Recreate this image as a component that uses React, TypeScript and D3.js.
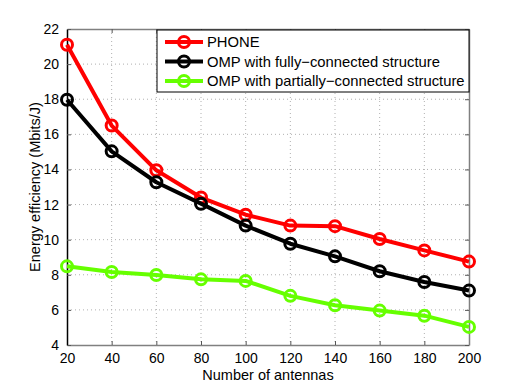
import React, { useRef, useEffect } from 'react';
import * as d3 from 'd3';

// Number of antennas
const antennas = [20, 40, 60, 80, 100, 120, 140, 160, 180, 200];

// Energy efficiency (Mbits/J)
const phone = [21.1, 16.5, 13.95, 12.4, 11.42, 10.8, 10.77, 10.04, 9.39, 8.75];
const ompFull = [17.97, 15.03, 13.27, 12.05, 10.8, 9.77, 9.05, 8.2, 7.59, 7.1];
const ompPartial = [8.48, 8.16, 7.99, 7.74, 7.65, 6.8, 6.26, 5.96, 5.67, 5.03];

const xTicks = [20, 40, 60, 80, 100, 120, 140, 160, 180, 200];
const yTicks = [4, 6, 8, 10, 12, 14, 16, 18, 20, 22];

const seriesNames = [
  'PHONE',
  'OMP with fully\u2212connected structure',
  'OMP with partially\u2212connected structure',
];
const seriesColors = ['#ff0000', '#000000', '#66ff00'];

const App = () => {
  const svgRef = useRef<SVGSVGElement | null>(null);

  useEffect(() => {
    if (!svgRef.current) return;
    const width = 518;
    const height = 389;
    const margin = { top: 29, right: 49, bottom: 44, left: 67 };
    const innerWidth = width - margin.left - margin.right;
    const innerHeight = height - margin.top - margin.bottom;
    const font = '"Liberation Sans", Arial, Helvetica, sans-serif';

    const root = d3.select(svgRef.current);
    root.selectAll('*').remove();
    root.attr('width', width).attr('height', height);

    const svg = root.append('g').attr('transform', `translate(${margin.left}, ${margin.top})`);

    const x = d3.scaleLinear().domain([20, 200]).range([0, innerWidth]);
    const y = d3.scaleLinear().domain([4, 22]).range([innerHeight, 0]);

    // grid
    svg.append('g')
      .selectAll('line')
      .data(xTicks.slice(1, -1))
      .join('line')
      .attr('x1', d => x(d)).attr('x2', d => x(d))
      .attr('y1', 0).attr('y2', innerHeight)
      .attr('stroke', '#b0b0b0').attr('stroke-width', 1)
      .attr('stroke-dasharray', '1,3');
    svg.append('g')
      .selectAll('line')
      .data(yTicks.slice(1, -1))
      .join('line')
      .attr('x1', 0).attr('x2', innerWidth)
      .attr('y1', d => y(d)).attr('y2', d => y(d))
      .attr('stroke', '#b0b0b0').attr('stroke-width', 1)
      .attr('stroke-dasharray', '1,3');

    // axes box
    const tickLen = 4;
    const bottom = svg.append('g').attr('transform', `translate(0, ${innerHeight})`)
      .call(d3.axisBottom(x).tickValues(xTicks).tickSizeInner(-tickLen).tickSizeOuter(0).tickPadding(8));
    const top = svg.append('g')
      .call(d3.axisTop(x).tickValues(xTicks).tickSizeInner(-tickLen).tickSizeOuter(0).tickFormat(() => ''));
    const left = svg.append('g')
      .call(d3.axisLeft(y).tickValues(yTicks).tickSizeInner(-tickLen).tickSizeOuter(0).tickPadding(8));
    const right = svg.append('g').attr('transform', `translate(${innerWidth}, 0)`)
      .call(d3.axisRight(y).tickValues(yTicks).tickSizeInner(-tickLen).tickSizeOuter(0).tickFormat(() => ''));

    [bottom, top, right].forEach(g => {
      g.select('.domain').attr('stroke', '#808080').attr('stroke-width', 1.5);
      g.selectAll('.tick line').attr('stroke', '#555');
    });
    left.select('.domain').attr('stroke', '#000').attr('stroke-width', 1.5);
    left.selectAll('.tick line').attr('stroke', '#555');

    [bottom, left].forEach(g => {
      g.selectAll('.tick text')
        .attr('font-family', font)
        .attr('font-size', 14)
        .attr('fill', '#000');
    });

    // lines and markers
    const allSeries = [phone, ompFull, ompPartial];
    const line = d3.line<number>()
      .x((_, i) => x(antennas[i]))
      .y(d => y(d));

    allSeries.forEach((vals, si) => {
      svg.append('path')
        .datum(vals)
        .attr('fill', 'none')
        .attr('stroke', seriesColors[si])
        .attr('stroke-width', 4)
        .attr('stroke-linejoin', 'round')
        .attr('d', line);
      svg.append('g')
        .selectAll('circle')
        .data(vals)
        .join('circle')
        .attr('cx', (_, i) => x(antennas[i]))
        .attr('cy', d => y(d))
        .attr('r', 5.5)
        .attr('fill', 'none')
        .attr('stroke', seriesColors[si])
        .attr('stroke-width', 3);
    });

    // legend
    const lx = 157 - margin.left;
    const ly = 1;
    const lw = innerWidth - lx;
    const lh = 62;
    const legend = svg.append('g').attr('transform', `translate(${lx}, ${ly})`);
    legend.append('rect')
      .attr('width', lw).attr('height', lh)
      .attr('fill', '#fff').attr('stroke', '#000').attr('stroke-width', 1);
    seriesNames.forEach((name, i) => {
      const cy = 12 + i * 19.5;
      legend.append('line')
        .attr('x1', 8).attr('x2', 46)
        .attr('y1', cy).attr('y2', cy)
        .attr('stroke', seriesColors[i]).attr('stroke-width', 4);
      legend.append('circle')
        .attr('cx', 27).attr('cy', cy).attr('r', 5.5)
        .attr('fill', 'none').attr('stroke', seriesColors[i]).attr('stroke-width', 3);
      legend.append('text')
        .attr('x', 50).attr('y', cy + 5)
        .attr('font-family', font).attr('font-size', 14.8)
        .attr('fill', '#000')
        .text(name);
    });

    // axis labels
    root.append('text')
      .attr('x', margin.left + innerWidth / 2)
      .attr('y', 380)
      .attr('text-anchor', 'middle')
      .attr('font-family', font).attr('font-size', 14.5)
      .text('Number of antennas');
    root.append('text')
      .attr('transform', `translate(40, ${margin.top + innerHeight / 2}) rotate(-90)`)
      .attr('text-anchor', 'middle')
      .attr('font-family', font).attr('font-size', 14.5)
      .text('Energy efficiency (Mbits/J)');
  }, []);

  return (
    <svg ref={svgRef} style={{ position: 'absolute', left: 0, top: 0, background: '#fff' }}></svg>
  );
};

export default App;
